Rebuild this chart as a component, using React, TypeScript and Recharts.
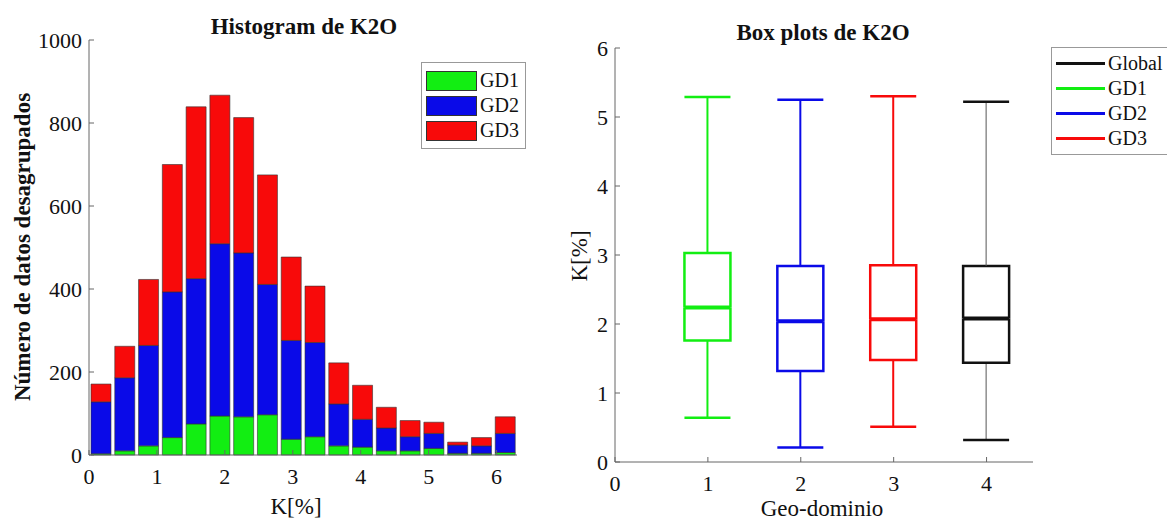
import React from "react";
import { BarChart, ComposedChart, Bar, XAxis, YAxis, Legend, Label } from "recharts";

const FONT = "'Liberation Serif', 'Times New Roman', serif";
const GREEN = "#12ee12";
const BLUE = "#0a0ae8";
const RED = "#f80a0a";
const BLACK = "#111111";

// histogram: bin centres (K %), counts per geo-domain
const binCenters = [0.175, 0.525, 0.875, 1.225, 1.575, 1.925, 2.275, 2.625, 2.975, 3.325, 3.675, 4.025, 4.375, 4.725, 5.075, 5.425, 5.775, 6.125];
const gd1Counts = [3, 10, 22, 42, 75, 94, 92, 97, 38, 44, 22, 19, 10, 10, 16, 4, 4, 6];
const gd2Counts = [125, 176, 242, 351, 350, 415, 395, 314, 238, 227, 101, 67, 55, 34, 36, 20, 18, 46];
const gd3Counts = [43, 76, 159, 307, 414, 358, 326, 264, 201, 136, 99, 82, 50, 39, 27, 7, 20, 40];
const histXTicks = [0, 1, 2, 3, 4, 5, 6];
const histYTicks = [0, 200, 400, 600, 800, 1000];

// box plots per geo-domain
const boxPositions = [1, 2, 3, 4];
const boxNames = ["GD1", "GD2", "GD3", "Global"];
const boxMin = [0.64, 0.21, 0.51, 0.32];
const boxQ1 = [1.76, 1.32, 1.48, 1.44];
const boxMedian = [2.24, 2.04, 2.07, 2.08];
const boxQ3 = [3.03, 2.84, 2.85, 2.84];
const boxMax = [5.29, 5.25, 5.3, 5.22];
const boxXTicks = [0, 1, 2, 3, 4];
const boxYTicks = [0, 1, 2, 3, 4, 5, 6];
const boxLegendNames = ["Global", "GD1", "GD2", "GD3"];

const boxStyle: Record<string, { color: string; whisker: string; whiskerWidth: number }> = {
  GD1: { color: GREEN, whisker: GREEN, whiskerWidth: 2 },
  GD2: { color: BLUE, whisker: BLUE, whiskerWidth: 2 },
  GD3: { color: RED, whisker: RED, whiskerWidth: 2 },
  Global: { color: BLACK, whisker: "#555", whiskerWidth: 1 },
};

const tickStyle = { fill: "#111", fontSize: 22, fontFamily: FONT };

function HistLegend({ payload }: any) {
  return (
    <div
      style={{
        border: "1px solid #999",
        background: "#fff",
        padding: "5px 6px 5px 4px",
        fontFamily: FONT,
        fontSize: 20,
        color: "#111",
      }}
    >
      {(payload || []).map((p: any) => (
        <div key={p.value} style={{ display: "flex", alignItems: "center", height: 25 }}>
          <span
            style={{
              display: "inline-block",
              width: 49,
              height: 18,
              background: p.color,
              border: "1px solid #333",
              marginRight: 3,
            }}
          />
          <span style={{ fontFamily: FONT }}>{p.value}</span>
        </div>
      ))}
    </div>
  );
}

function BoxLegend() {
  const colors: Record<string, string> = { Global: BLACK, GD1: GREEN, GD2: BLUE, GD3: RED };
  return (
    <div
      style={{
        border: "1px solid #999",
        background: "#fff",
        padding: "3px 12px 3px 4px",
        fontFamily: FONT,
        fontSize: 20,
        color: "#111",
      }}
    >
      {boxLegendNames.map((n) => (
        <div key={n} style={{ display: "flex", alignItems: "center", height: 25 }}>
          <span style={{ display: "inline-block", width: 49, height: 3, background: colors[n], marginRight: 3 }} />
          <span style={{ fontFamily: FONT }}>{n}</span>
        </div>
      ))}
    </div>
  );
}

function Histogram() {
  const data = binCenters.map((c, i) => ({
    k: c,
    GD1: gd1Counts[i],
    GD2: gd2Counts[i],
    GD3: gd3Counts[i],
  }));
  return (
    <BarChart width={560} height={522} data={data} margin={{ top: 40, right: 43, bottom: 37, left: 29 }}>
      <XAxis
        dataKey="k"
        type="number"
        domain={[0, 6.3]}
        ticks={histXTicks}
        height={30}
        tickSize={-5}
        tickMargin={18}
        stroke="#666"
        tick={tickStyle}
      >
        <Label
          content={() => (
            <text x={296} y={514} textAnchor="middle" fontFamily={FONT} fontSize={23} fill="#111">
              K[%]
            </text>
          )}
        />
      </XAxis>
      <YAxis
        type="number"
        domain={[0, 1000]}
        ticks={histYTicks}
        width={60}
        tickSize={-5}
        tickMargin={12}
        stroke="#666"
        tick={tickStyle}
      >
        <Label
          content={() => (
            <g>
              <text x={304} y={34} textAnchor="middle" fontFamily={FONT} fontSize={23} fontWeight="bold" fill="#111">
                Histogram de K2O
              </text>
              <text
                x={0}
                y={0}
                transform="translate(30 247) rotate(-90)"
                textAnchor="middle"
                fontFamily={FONT}
                fontSize={23}
                fontWeight="bold"
                fill="#111"
              >
                Número de datos desagrupados
              </text>
            </g>
          )}
        />
      </YAxis>
      <Legend
        layout="horizontal"
        verticalAlign="middle"
        align="center"
        content={<HistLegend />}
        wrapperStyle={{ position: "absolute", left: 421, top: 62, width: "auto" }}
      />
      <Bar dataKey="GD1" stackId="h" fill={GREEN} stroke="#333" strokeWidth={0.6} barSize={20} isAnimationActive={false} />
      <Bar dataKey="GD2" stackId="h" fill={BLUE} stroke="#333" strokeWidth={0.6} barSize={20} isAnimationActive={false} />
      <Bar dataKey="GD3" stackId="h" fill={RED} stroke="#333" strokeWidth={0.6} barSize={20} isAnimationActive={false} />
    </BarChart>
  );
}

function LowWhisker(props: any) {
  const { x, y, width, height, payload } = props;
  const s = boxStyle[payload.name];
  const cx = x + width / 2;
  return (
    <g>
      <line x1={cx} x2={cx} y1={y} y2={y + height} stroke={s.whisker} strokeWidth={s.whiskerWidth} />
      <line x1={x} x2={x + width} y1={y + height} y2={y + height} stroke={s.color} strokeWidth={2.5} />
    </g>
  );
}

function HighWhisker(props: any) {
  const { x, y, width, height, payload } = props;
  const s = boxStyle[payload.name];
  const cx = x + width / 2;
  return (
    <g>
      <line x1={cx} x2={cx} y1={y} y2={y + height} stroke={s.whisker} strokeWidth={s.whiskerWidth} />
      <line x1={x} x2={x + width} y1={y} y2={y} stroke={s.color} strokeWidth={2.5} />
    </g>
  );
}

function LowBox(props: any) {
  const { x, y, width, height, payload } = props;
  const s = boxStyle[payload.name];
  return (
    <g>
      <path
        d={`M${x},${y} L${x},${y + height} L${x + width},${y + height} L${x + width},${y}`}
        fill="none"
        stroke={s.color}
        strokeWidth={2.5}
      />
      <line x1={x} x2={x + width} y1={y} y2={y} stroke={s.color} strokeWidth={4} />
    </g>
  );
}

function HighBox(props: any) {
  const { x, y, width, height, payload } = props;
  const s = boxStyle[payload.name];
  return (
    <path
      d={`M${x},${y + height} L${x},${y} L${x + width},${y} L${x + width},${y + height}`}
      fill="none"
      stroke={s.color}
      strokeWidth={2.5}
    />
  );
}

function BoxPlots() {
  const data = boxPositions.map((p, i) => ({
    pos: p,
    name: boxNames[i],
    base: boxMin[i],
    lowWhisker: boxQ1[i] - boxMin[i],
    lowBox: boxMedian[i] - boxQ1[i],
    highBox: boxQ3[i] - boxMedian[i],
    highWhisker: boxMax[i] - boxQ3[i],
  }));
  return (
    <ComposedChart width={607} height={522} data={data} margin={{ top: 48, right: 134, bottom: 30, left: 15 }}>
      <XAxis
        dataKey="pos"
        type="number"
        domain={[0, 4.5]}
        ticks={boxXTicks}
        height={30}
        tickSize={-5}
        tickMargin={18}
        stroke="#666"
        tick={tickStyle}
      >
        <Label
          content={() => (
            <text x={262} y={516} textAnchor="middle" fontFamily={FONT} fontSize={23} fill="#111">
              Geo-dominio
            </text>
          )}
        />
      </XAxis>
      <YAxis
        type="number"
        domain={[0, 6]}
        ticks={boxYTicks}
        width={40}
        tickSize={-5}
        tickMargin={12}
        stroke="#666"
        tick={tickStyle}
      >
        <Label
          content={() => (
            <g>
              <text x={263} y={40} textAnchor="middle" fontFamily={FONT} fontSize={23} fontWeight="bold" fill="#111">
                Box plots de K2O
              </text>
              <text
                x={0}
                y={0}
                transform="translate(27 256) rotate(-90)"
                textAnchor="middle"
                fontFamily={FONT}
                fontSize={23}
                fill="#111"
              >
                K[%]
              </text>
            </g>
          )}
        />
      </YAxis>
      <Legend
        layout="horizontal"
        verticalAlign="middle"
        align="center"
        content={<BoxLegend />}
        wrapperStyle={{ position: "absolute", left: 491, top: 47, width: "auto" }}
      />
      <Bar dataKey="base" stackId="b" barSize={46} fill="none" legendType="none" shape={() => <g />} isAnimationActive={false} />
      <Bar dataKey="lowWhisker" stackId="b" barSize={46} shape={<LowWhisker />} legendType="none" isAnimationActive={false} />
      <Bar dataKey="lowBox" stackId="b" barSize={46} shape={<LowBox />} legendType="none" isAnimationActive={false} />
      <Bar dataKey="highBox" stackId="b" barSize={46} shape={<HighBox />} legendType="none" isAnimationActive={false} />
      <Bar dataKey="highWhisker" stackId="b" barSize={46} shape={<HighWhisker />} legendType="none" isAnimationActive={false} />
    </ComposedChart>
  );
}

export default function App() {
  return (
    <div
      style={{
        position: "absolute",
        left: 0,
        top: 0,
        width: 1167,
        height: 522,
        overflow: "hidden",
        background: "#fff",
      }}
    >
      <div style={{ position: "absolute", left: 0, top: 0 }}>
        <Histogram />
      </div>
      <div style={{ position: "absolute", left: 560, top: 0 }}>
        <BoxPlots />
      </div>
    </div>
  );
}
